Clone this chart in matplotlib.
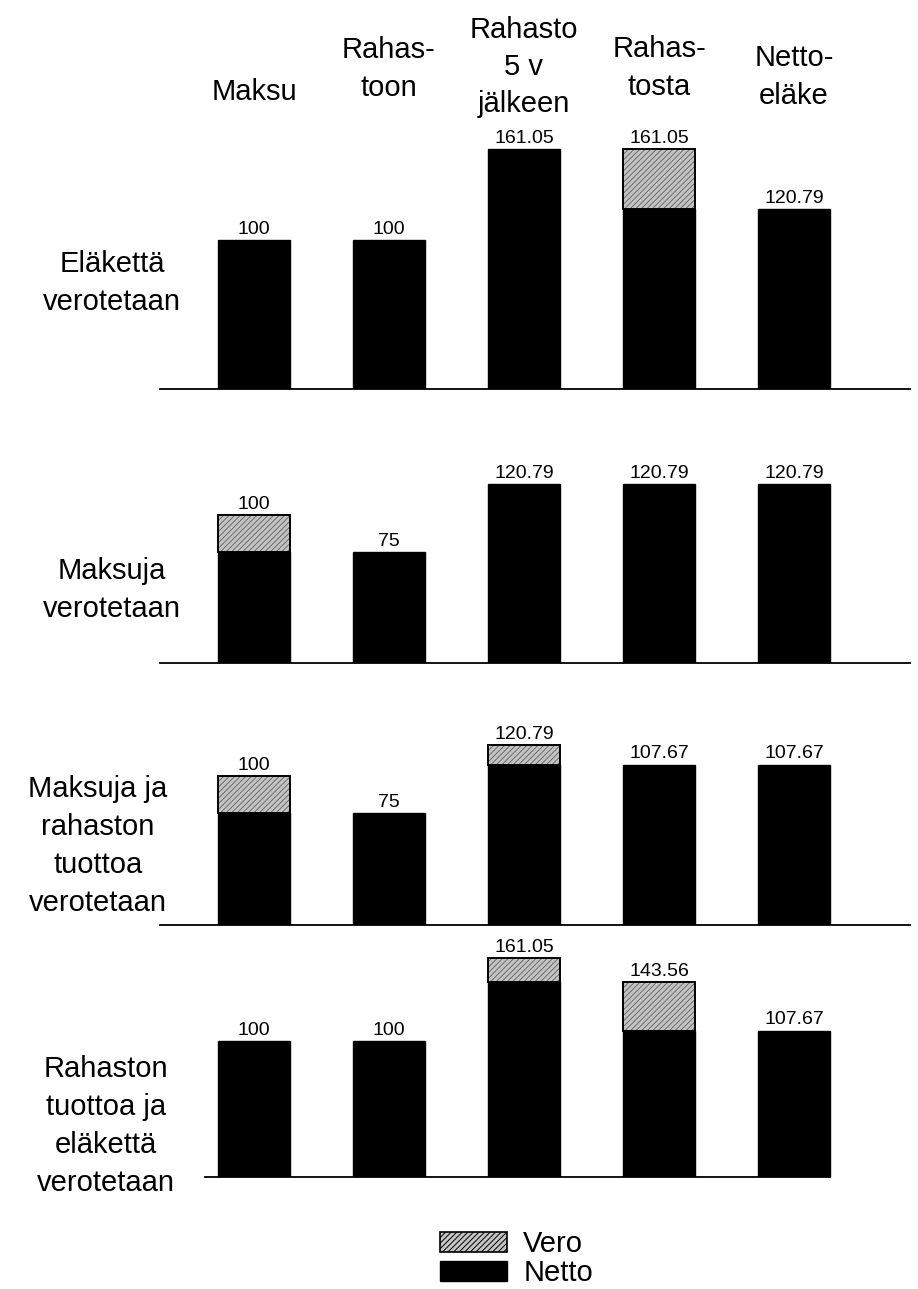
import matplotlib
matplotlib.use("Agg")
import matplotlib.pyplot as plt
from matplotlib.patches import Patch
from matplotlib.transforms import blended_transform_factory

plt.rcParams['font.family'] = ['Liberation Sans', 'DejaVu Sans']
plt.rcParams['hatch.linewidth'] = 0.7

# column headers and row (scenario) labels
columns = ["Maksu", "Rahas-\ntoon", "Rahasto\n5 v\njälkeen", "Rahas-\ntosta", "Netto-\neläke"]
rows = ["Eläkettä\nverotetaan",
        "Maksuja\nverotetaan",
        "Maksuja ja\nrahaston\ntuottoa\nverotetaan",
        "Rahaston\ntuottoa ja\neläkettä\nverotetaan"]

# net part and tax part of each bar, one list per scenario
netto_1 = [100, 100, 161.05, 120.79, 120.79]
vero_1 = [0, 0, 0, 40.26, 0]
netto_2 = [75, 75, 120.79, 120.79, 120.79]
vero_2 = [25, 0, 0, 0, 0]
netto_3 = [75, 75, 107.67, 107.67, 107.67]
vero_3 = [25, 0, 13.12, 0, 0]
netto_4 = [100, 100, 143.56, 107.67, 107.67]
vero_4 = [0, 0, 17.49, 35.89, 0]

# printed totals above the bars
totals_1 = [100, 100, 161.05, 161.05, 120.79]
totals_2 = [100, 75, 120.79, 120.79, 120.79]
totals_3 = [100, 75, 120.79, 107.67, 107.67]
totals_4 = [100, 100, 161.05, 143.56, 107.67]

netto = [netto_1, netto_2, netto_3, netto_4]
vero = [vero_1, vero_2, vero_3, vero_4]
totals = [totals_1, totals_2, totals_3, totals_4]

W, H = 918, 1289
fig = plt.figure(figsize=(W / 100, H / 100), dpi=100)

# panel placement in pixels: baseline, px per unit
baselines = [389, 663, 925, 1177]
scales = [1.49, 1.48, 1.49, 1.36]
row_label_y = [283, 590, 846, 1126]
row_label_x = [112, 112, 98, 106]
ymax = 172
x_left, x_right = 160, 910
xlim = (-0.696, 4.859)
# extent of the baseline in each panel (data units)
spine_bounds = [xlim, xlim, xlim, (-0.363, 4.265)]

vero_color = "#c4c4c4"
bar_w = 0.53
axes = []
for i in range(4):
    h = ymax * scales[i]
    ax = fig.add_axes([x_left / W, 1 - baselines[i] / H, (x_right - x_left) / W, h / H])
    axes.append(ax)
    x = range(len(netto[i]))
    ax.bar(x, netto[i], width=bar_w, color="black", edgecolor="black", linewidth=1)
    ax.bar(x, vero[i], bottom=netto[i], width=bar_w, color=vero_color,
           hatch="//////", edgecolor="#6a6a6a", linewidth=0)
    ax.bar(x, vero[i], bottom=netto[i], width=bar_w, fill=False,
           edgecolor=["black" if v > 0 else "none" for v in vero[i]], linewidth=1.4)
    for j, t in enumerate(totals[i]):
        ax.annotate(f"{t:g}", (j, t), xytext=(0, 1.5), textcoords="offset points",
                    ha="center", va="bottom", fontsize=14)
    ax.set_xlim(*xlim)
    ax.set_ylim(0, ymax)
    for s in ["top", "left", "right"]:
        ax.spines[s].set_visible(False)
    ax.spines["bottom"].set_linewidth(1.3)
    ax.spines["bottom"].set_bounds(*spine_bounds[i])
    ax.set_xticks([])
    ax.set_yticks([])
    ax.patch.set_alpha(0)
    fig.text(row_label_x[i] / W, 1 - row_label_y[i] / H, rows[i], ha="center", va="center",
             fontsize=21, linespacing=1.45)

# column headers above the first panel
tr = blended_transform_factory(axes[0].transData, fig.transFigure)
header_y = [92, 69, 67, 68, 77]
for j, name in enumerate(columns):
    axes[0].text(j, 1 - header_y[j] / H, name, transform=tr, ha="center", va="center",
                 fontsize=21, linespacing=1.42)

handles = [Patch(facecolor=vero_color, hatch="//////", edgecolor="black", linewidth=1.2),
           Patch(facecolor="black", edgecolor="black")]
fig.legend(handles, ["Vero", "Netto"], loc="upper left",
           bbox_to_anchor=(440 / W, 1 - 1230 / H), frameon=False, fontsize=21,
           handlelength=2.3, handleheight=0.7, labelspacing=0.05, handletextpad=0.55,
           borderpad=0, borderaxespad=0)

fig.savefig("out.png", dpi=100)
